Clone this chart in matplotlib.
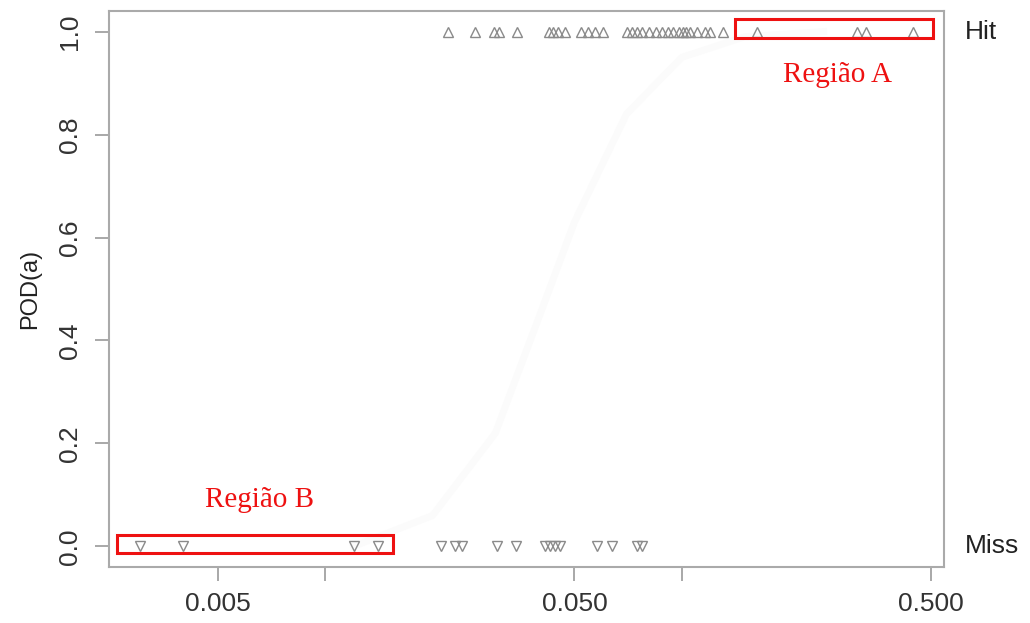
import matplotlib
matplotlib.use("Agg")
import matplotlib.pyplot as plt
from matplotlib.patches import Rectangle

# ---- data ----
hit_x = [0.0221, 0.0263, 0.0297, 0.0307, 0.0345, 0.0424, 0.0435, 0.0449, 0.0470,
         0.0522, 0.0546, 0.0571, 0.0601, 0.0702, 0.0725, 0.0748, 0.0773, 0.0809,
         0.0846, 0.0880, 0.0915, 0.0945, 0.0982, 0.1008, 0.1027, 0.1054, 0.1103,
         0.1162, 0.1200, 0.1305, 0.1625, 0.3100, 0.3286, 0.4452]
miss_x = [0.00302, 0.00399, 0.01203, 0.01405, 0.0211, 0.0231, 0.0242, 0.0303,
          0.0343, 0.0413, 0.0427, 0.0441, 0.0455, 0.0578, 0.0637, 0.0748, 0.0773]
curve_x = [0.012, 0.02, 0.03, 0.04, 0.05, 0.07, 0.1, 0.15, 0.25]
curve_pod = [0.0, 0.06, 0.22, 0.45, 0.63, 0.84, 0.95, 0.99, 1.0]
y_ticks = [0.0, 0.2, 0.4, 0.6, 0.8, 1.0]
y_ticklabels = ["0.0", "0.2", "0.4", "0.6", "0.8", "1.0"]
x_ticks = [0.005, 0.01, 0.05, 0.1, 0.5]
x_ticklabels = ["0.005", "", "0.050", "", "0.500"]
region_a = (0.141, 0.506, 0.988, 1.024)   # x0, x1, y0, y1
region_b = (0.0026, 0.01548, -0.0136, 0.0213)
label_a = ("Região A", 0.274, 0.916)
label_b = ("Região B", 0.00656, 0.091)
side_labels = [("Hit", 1.0), ("Miss", 0.0)]

plt.rcParams['font.family'] = ['Liberation Sans', 'DejaVu Sans']

fig = plt.figure(figsize=(10.30, 6.23), dpi=100)
ax = fig.add_axes([0.1055, 0.0899, 0.8110, 0.8924])

ax.set_xscale('log')
ax.set_xlim(0.002469, 0.5439)
ax.set_ylim(-0.04, 1.04)

# faint fitted curve (barely visible in the reference)
ax.plot(curve_x, curve_pod, color='#fbfbfb', lw=5, zorder=1)

mk = dict(linestyle='none', markersize=7, markerfacecolor='none',
          markeredgecolor='#8a8a8a', markeredgewidth=1.0, zorder=3)
ax.plot(hit_x, [1.0] * len(hit_x), marker='^', **mk)
ax.plot(miss_x, [0.0] * len(miss_x), marker='v', **mk)

for (x0, x1, y0, y1) in (region_a, region_b):
    ax.add_patch(Rectangle((x0, y0), x1 - x0, y1 - y0, fill=False,
                           edgecolor='#ee1111', lw=2.2, zorder=4))

for (txt, x, y) in (label_a, label_b):
    ax.text(x, y, txt, color='#ee1111', fontsize=21, ha='center', va='center',
            family=['Liberation Serif', 'DejaVu Serif'])

for txt, y in side_labels:
    ax.text(1.025, y, txt, transform=ax.get_yaxis_transform(), ha='left',
            va='center', fontsize=19, color='#222222')

ax.set_yticks(y_ticks)
ax.set_yticklabels(y_ticklabels, rotation=90, va='center', fontsize=19,
                   color='#333333')
ax.set_xticks(x_ticks)
ax.set_xticklabels(x_ticklabels, fontsize=19, color='#333333')
ax.xaxis.set_minor_locator(matplotlib.ticker.NullLocator())
ax.tick_params(axis='both', length=10, width=1.2, color='#999999', pad=8)
ax.tick_params(axis='y', pad=9)

ax.set_ylabel("POD(a)", fontsize=17, color='#222222', labelpad=12)

for s in ax.spines.values():
    s.set_color('#aaaaaa')
    s.set_linewidth(1.5)

fig.savefig("out.png", dpi=100, facecolor='white')
